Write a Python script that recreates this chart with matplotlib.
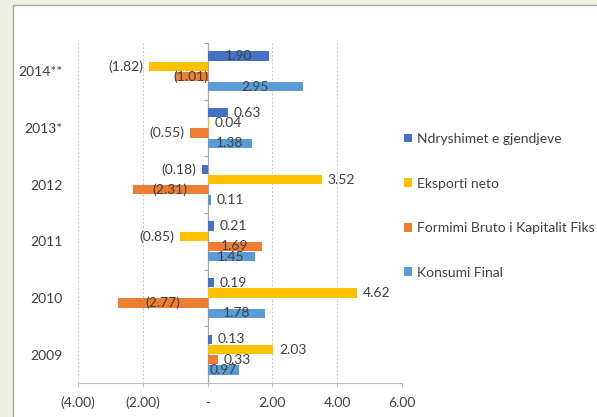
import matplotlib
matplotlib.use("Agg")
import matplotlib.pyplot as plt
from matplotlib.patches import Rectangle
import numpy as np

plt.rcParams['font.family'] = ['Lato', 'DejaVu Sans']

years = ["2009", "2010", "2011", "2012", "2013*", "2014**"]
series_names = ["Ndryshimet e gjendjeve", "Eksporti neto",
                "Formimi Bruto i Kapitalit Fiks", "Konsumi Final"]
ndryshimet = [0.13, 0.19, 0.21, -0.18, 0.63, 1.90]
eksporti = [2.03, 4.62, -0.85, 3.52, 0.04, -1.82]
formimi = [0.33, -2.77, 1.69, -2.31, -0.55, -1.01]
konsumi = [0.97, 1.78, 1.45, 0.11, 1.38, 2.95]
colors = ["#4472C4", "#FFC000", "#ED7D31", "#5B9BD5"]
xticks = [-4, -2, 0, 2, 4, 6]

def fmt(v):
    if v == 0:
        return "-"
    if v < 0:
        return "({:.2f})".format(-v)
    return "{:.2f}".format(v)

FS = 10
fig = plt.figure(figsize=(5.97, 4.17), dpi=100, facecolor="#EBF1DE")
bg = Rectangle((13/597, -0.01), 1.0, 1 - 5/417 + 0.01,
               transform=fig.transFigure, facecolor="white",
               edgecolor="#A6A6A6", linewidth=1.0, zorder=-10)
fig.add_artist(bg)

ax = fig.add_axes([78/597, 1 - 383/417, (402 - 78)/597, (383 - 43)/417])
ax.set_facecolor("none")
ax.set_zorder(1)

y = np.arange(len(years))
pitch = 0.18
h = 0.165
all_series = [ndryshimet, eksporti, formimi, konsumi]
for k, (vals, c, name) in enumerate(zip(all_series, colors, series_names)):
    off = (1.5 - k) * pitch
    bars = ax.barh(y + off, vals, height=h, color=c, label=name, zorder=3)
    for b, v in zip(bars, vals):
        yc = b.get_y() + b.get_height() / 2
        if k != 1 and abs(v) >= 0.9:
            ax.text(v / 2, yc, fmt(v), ha="center", va="center",
                    fontsize=FS, color="#404040", zorder=4)
        else:
            ax.annotate(fmt(v), (v, yc), xytext=(4 if v >= 0 else -4, 0),
                        textcoords="offset points",
                        ha="left" if v >= 0 else "right", va="center",
                        fontsize=FS, color="#404040", zorder=4)

ax.set_xlim(-4, 6)
ax.set_ylim(-0.5, len(years) - 0.5)
ax.set_xticks(xticks)
ax.set_xticklabels([fmt(t) for t in xticks], fontsize=FS, color="#404040")
ax.set_yticks(y)
ax.set_yticklabels(years, fontsize=FS, color="#404040")
ax.tick_params(axis="y", length=0, pad=11)
ax.tick_params(axis="x", length=3, color="#BFBFBF", pad=7)
ax.grid(axis="x", linestyle=(0, (2, 2)), color="#C8C8C8", linewidth=0.7, zorder=0)
for s in ["top", "right", "left"]:
    ax.spines[s].set_visible(False)
ax.spines["bottom"].set_color("#BFBFBF")
ax.axvline(0, color="#A6A6A6", linewidth=0.9, zorder=2)
bounds = np.arange(len(years) + 1) - 0.5
ax.hlines(bounds, -0.12, 0, color="#A6A6A6", linewidth=0.9, zorder=2)

leg = ax.legend(loc="upper left", bbox_to_anchor=(0.988, 0.752), frameon=False,
                fontsize=FS, labelspacing=2.35, handlelength=0.6, handleheight=0.6,
                handletextpad=0.35, borderaxespad=0)
for t in leg.get_texts():
    t.set_color("#404040")

fig.savefig("out.png", dpi=100, facecolor=fig.get_facecolor())
